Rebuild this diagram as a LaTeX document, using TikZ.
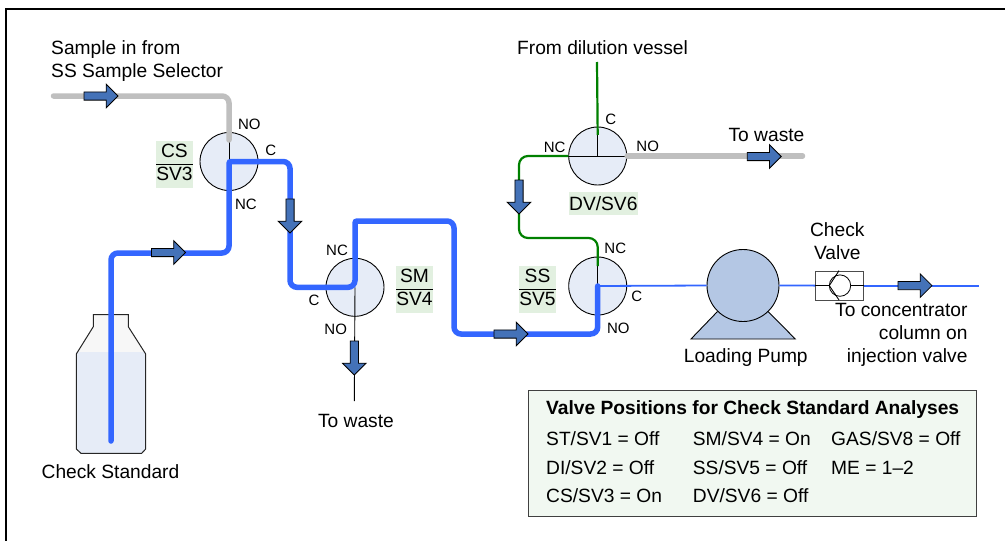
\documentclass[tikz,border=0pt]{standalone}
\usepackage{fontspec}
\setmainfont{Liberation Sans}
\usetikzlibrary{shapes.arrows}
\definecolor{tubeblue}{RGB}{51,102,255}
\definecolor{tubegray}{RGB}{191,191,191}
\definecolor{tubegreen}{RGB}{0,128,0}
\definecolor{valvefill}{RGB}{230,236,247}
\definecolor{pumpfill}{RGB}{180,199,228}
\definecolor{arrowfill}{RGB}{68,114,184}
\definecolor{tagfill}{RGB}{226,240,224}
\definecolor{panelfill}{RGB}{241,248,241}
\newcommand{\valvefrac}[2]{\begin{tabular}{@{}c@{}}#1\\\hline #2\end{tabular}}
\tikzset{
  label/.style={inner sep=0pt,font=\fontsize{19.2}{23}\selectfont},
  port/.style={inner sep=0pt,font=\fontsize{15}{18}\selectfont},
  valve/.style={draw,circle,fill=valvefill,line width=0.9pt,minimum size=58,inner sep=0pt},
  tag/.style={fill=tagfill,inner sep=0pt,font=\fontsize{19.2}{22}\selectfont},
  tube/.style={tubeblue,line width=5.5,rounded corners=7,line cap=round},
  feed/.style={tubegray,line width=5.5,rounded corners=7,line cap=round},
  dilute/.style={tubegreen,line width=2.2,rounded corners=9},
  stem/.style={black,line width=0.9pt},
  thin tube/.style={tubeblue,line width=1.8},
  flow/.style={single arrow,draw=black,fill=arrowfill,line width=0.8pt,anchor=tail,
    minimum height=34,minimum width=23,single arrow head extend=7.7,inner sep=3.7,outer sep=0pt},
}
\begin{document}
\begin{tikzpicture}[x=1pt,y=-1pt]
  \useasboundingbox (0,0) rectangle (1005,541);
  \draw[line width=2.4] (6,541) -- (6,9) -- (1005,9);

  % bottle
  \fill[white!97!black] (93.3,314.7) -- (128.3,314.7) -- (128.3,326.7) -- (145.7,354) -- (145.7,352) -- (76.3,352) -- (76.3,354) -- (93.3,326.7) -- cycle;
  \fill[valvefill] (76.3,352) -- (145.7,352) -- (145.7,449) -- (141.7,453.3) -- (81,453.3) -- (76.3,449) -- cycle;
  \draw[black!85,line width=1pt] (93.3,314.7) -- (128.3,314.7) -- (128.3,326.7) -- (145.7,354) -- (145.7,449) -- (141.7,453.3)
    -- (81,453.3) -- (76.3,449) -- (76.3,354) -- (93.3,326.7) -- cycle;

  % valves
  \node[valve] (cs) at (229,161.5) {};
  \node[valve] (sm) at (355,287.3) {};
  \node[valve] (ss) at (597.7,286) {};
  \node[valve] (dv) at (597.7,156) {};

  % pump
  \draw[fill=pumpfill,line width=0.9pt] (717.3,311.7) -- (691,339) -- (795.3,339) -- (768.3,311.7) -- cycle;
  \node[draw,circle,fill=pumpfill,line width=0.9pt,minimum size=72,inner sep=0pt] (pump) at (743,285.5) {};

  % check valve
  \node[draw=black!70,fill=white,line width=0.9pt,minimum width=48.4,minimum height=29,inner sep=0pt] (chk) at (839.5,285.6) {};
  \node[draw,circle,line width=0.8pt,minimum size=21.4,inner sep=0pt] (ball) at (840,285.6) {};
  \draw[stem] (chk.west) -- (ball.west);
  \draw[stem] (ball.east) -- (chk.east);
  \draw[stem] (chk.north) ++(-0.5,0) -- (829.3,285.6) -- (839,300);

  % tubing
  \coordinate (dip) at (111,441);
  \coordinate (jog) at (229,253);
  \coordinate (csdrop) at (290,287.3);
  \coordinate (smrise) at (355,221);
  \coordinate (smdrop) at (454,334);
  \coordinate (ssin) at (597.7,334);
  \coordinate (smend) at (354.3,401);
  \coordinate (sample) at (53.5,96);
  \coordinate (csno) at (229,140);
  \coordinate (dilin) at (597,62);
  \coordinate (dvc) at (597.7,135);
  \coordinate (dvturn) at (519,156);
  \coordinate (ssturn) at (519,238);
  \coordinate (ssnc) at (597.7,266);
  \coordinate (wasteend) at (802.5,156);
  \coordinate (outend) at (978.7,285.6);

  \draw[stem] (csno) -- (cs.center);
  \draw[stem] (sm.center) -- (smend);
  \draw[stem] (dv.west) -- (dv.east);
  \draw[stem] (dvc) -- (dv.center);
  \draw[stem] (ssnc) -- (ss.center);

  \draw[feed] (sample) -| (csno);
  \draw[feed] (dv.east) -- (wasteend);
  \draw[dilute] (dilin) -- (dvc);
  \draw[dilute] (dv.west) -- (dvturn) -- (ssturn) -| (ssnc);
  \draw[tube] (dip) |- (jog) [rounded corners=2] -- (cs.center) [rounded corners=7] -| (csdrop)
    -- (sm.center) [rounded corners=2] -- (smrise) [rounded corners=7] -| (smdrop) -- (ssin) -- (ss.center);
  \draw[thin tube] (ss.center) -- (pump.west);
  \draw[thin tube] (pump.east) -- (chk.west);
  \draw[thin tube] (chk.east) -- (outend);

  % flow arrows
  \foreach \x/\y/\a/\n in {84/96/0/flowa,151.5/252.5/0/flowb,290/199/-90/flowc,354.3/341/-90/flowd,
    494/334/0/flowe,519/180/-90/flowf,747.3/156.5/0/flowg,898/285.6/0/flowh}{
    \node[flow,rotate=\a] (\n) at (\x,\y) {};
  }

  % port labels
  \foreach \x/\y/\t/\n in {249.3/124/NO/csno,270.7/150.7/C/csc,246/204/NC/csnc,
    337/250.7/NC/smnc,314/300/C/smc,335.7/329/NO/smno,
    554.7/147.7/NC/dvnc,610.7/119.3/C/dvc,647.7/146.7/NO/dvno,
    615.3/248/NC/ssnc,636.7/296.7/C/ssc,618.3/328.7/NO/ssno}{
    \node[port] (\n lbl) at (\x,\y) {\t};
  }

  % valve tags
  \node[tag,minimum width=36.7,minimum height=46.7] (cstag) at (174.4,164.4) {\valvefrac{CS}{SV3}};
  \node[tag,minimum width=37,minimum height=46.7] (smtag) at (414.5,289.4) {\valvefrac{SM}{SV4}};
  \node[tag,minimum width=37,minimum height=46.7] (sstag) at (537.5,289.4) {\valvefrac{SS}{SV5}};
  \node[tag,minimum width=68.7,minimum height=23] (dvtag) at (603.3,203.2) {DV/SV6};

  % text
  \node[label,anchor=west,align=left] (samplelbl) at (51,61) {Sample in from\\SS Sample Selector};
  \node[label] (dilutelbl) at (602.5,48) {From dilution vessel};
  \node[label] (wastea) at (766.5,135) {To waste};
  \node[label] (wasteb) at (356,421) {To waste};
  \node[label] (bottlelbl) at (110.5,471.5) {Check Standard};
  \node[label] (pumplbl) at (745.8,358) {Loading Pump};
  \node[label,align=center] (chklbl) at (837.3,240.8) {Check\\Valve};
  \node[label,anchor=east,align=right] (outlbl) at (967.7,334.7) {To concentrator\\column on\\injection valve};

  % positions panel
  \node[draw=black!75,fill=panelfill,line width=0.9pt,minimum width=448.4,minimum height=125.3,inner sep=0pt] (panel) at (752.5,453.3) {};
  \node[label,anchor=west,font=\fontsize{19.2}{23}\selectfont\bfseries] (paneltitle) at (546,409.3) {Valve Positions for Check Standard Analyses};
  \foreach \x/\y/\t [count=\n] in {546/438.3/{ST/SV1 = Off},546/467.7/{DI/SV2 = Off},546/495.7/{CS/SV3 = On},
    692.7/438.3/{SM/SV4 = On},692.7/467.7/{SS/SV5 = Off},692.7/495.7/{DV/SV6 = Off},
    831/438.3/{GAS/SV8 = Off},831/467.7/{ME = 1--2}}{
    \node[label,anchor=west] (pos\n) at (\x,\y) {\t};
  }
\end{tikzpicture}
\end{document}
